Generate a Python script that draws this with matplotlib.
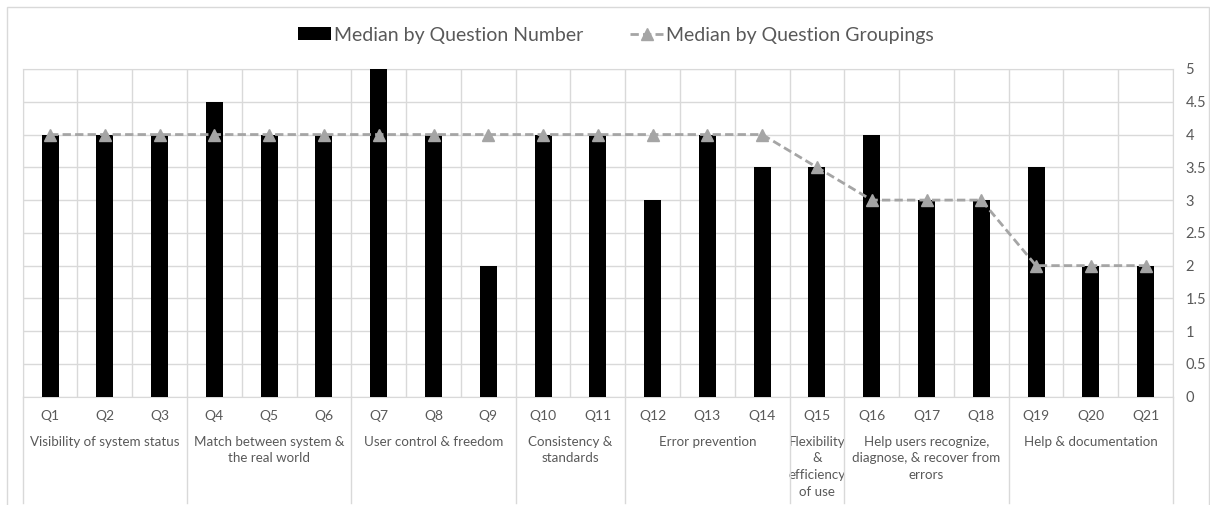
import matplotlib
matplotlib.use('Agg')
import matplotlib.pyplot as plt
from matplotlib.patches import Rectangle
from matplotlib.lines import Line2D
from matplotlib.transforms import blended_transform_factory

# chart data
questions = ['Q%d' % i for i in range(1, 22)]
median_by_question = [4, 4, 4, 4.5, 4, 4, 5, 4, 2, 4, 4, 3, 4, 3.5, 3.5, 4, 3, 3, 3.5, 2, 2]
median_by_group = [4, 4, 4, 4, 4, 4, 4, 4, 4, 4, 4, 4, 4, 4, 3.5, 3, 3, 3, 2, 2, 2]
group_names = [
    'Visibility of system status',
    'Match between system &\nthe real world',
    'User control & freedom',
    'Consistency &\nstandards',
    'Error prevention',
    'Flexibility\n&\nefficiency\nof use',
    'Help users recognize,\ndiagnose, & recover from\nerrors',
    'Help & documentation',
]
group_sizes = [3, 3, 3, 2, 3, 1, 3, 3]
y_ticks = [0, 0.5, 1, 1.5, 2, 2.5, 3, 3.5, 4, 4.5, 5]

TEXT = '#595959'
GRID = '#d9d9d9'
plt.rcParams['font.family'] = ['Lato', 'DejaVu Sans']

W, H = 1210, 505
fig = plt.figure(figsize=(W / 100, H / 100), dpi=100)
ax = fig.add_axes([22.7 / W, 1 - 396.7 / H, (1173 - 22.7) / W, (396.7 - 69) / H])

x = list(range(len(questions)))
bars = ax.bar(x, median_by_question, width=0.31, color='black', zorder=3)
line, = ax.plot(x, median_by_group, color='#a5a5a5', linestyle='--', linewidth=2,
                marker='^', markersize=8, zorder=4, dashes=(3, 1.5))

ax.set_xlim(-0.5, len(questions) - 0.5)
ax.set_ylim(0, 5)
ax.set_yticks(y_ticks)
ax.set_yticklabels(['%g' % t for t in y_ticks])
ax.yaxis.tick_right()
ax.tick_params(axis='y', length=0, pad=9, labelsize=10.5, labelcolor=TEXT)
for t in ax.get_yticklabels():
    t.set_horizontalalignment('left')

ax.set_xticks([i - 0.5 for i in range(len(questions) + 1)], minor=True)
ax.set_xticks([])
ax.grid(True, which='minor', axis='x', color=GRID, linewidth=1, zorder=0)
ax.grid(True, which='major', axis='y', color=GRID, linewidth=1, zorder=0)
ax.tick_params(axis='x', which='both', length=0)
for s in ax.spines.values():
    s.set_color(GRID)

# category labels below the axes
trans = blended_transform_factory(ax.transData, fig.transFigure)
for i, q in enumerate(questions):
    ax.text(i, 1 - 416 / H, q, transform=trans, ha='center', va='center',
            fontsize=10, color=TEXT)

start = 0
edges = [-0.5]
for name, size in zip(group_names, group_sizes):
    center = start + (size - 1) / 2
    ax.text(center, 1 - 436 / H, name, transform=trans, ha='center', va='top',
            fontsize=9.6, color=TEXT, linespacing=1.45)
    start += size
    edges.append(start - 0.5)

for e in edges:
    fig.add_artist(Line2D([e, e], [1 - 396.7 / H, 1 - 503 / H], transform=trans,
                          color=GRID, linewidth=1))

# chart border
fig.add_artist(Rectangle((7 / W, -0.05), (W - 8) / W, 1 - 7 / H + 0.05,
                         transform=fig.transFigure, fill=False, edgecolor=GRID, linewidth=1))

fig.legend([bars, line], ['Median by Question Number', 'Median by Question Groupings'],
           loc='center', bbox_to_anchor=(616 / W, 1 - 35 / H), ncol=2,
           frameon=False, fontsize=14, labelcolor=TEXT, handlelength=1.7,
           handleheight=0.6, handletextpad=0.15, columnspacing=2.4)

fig.savefig('out.png', dpi=100)
